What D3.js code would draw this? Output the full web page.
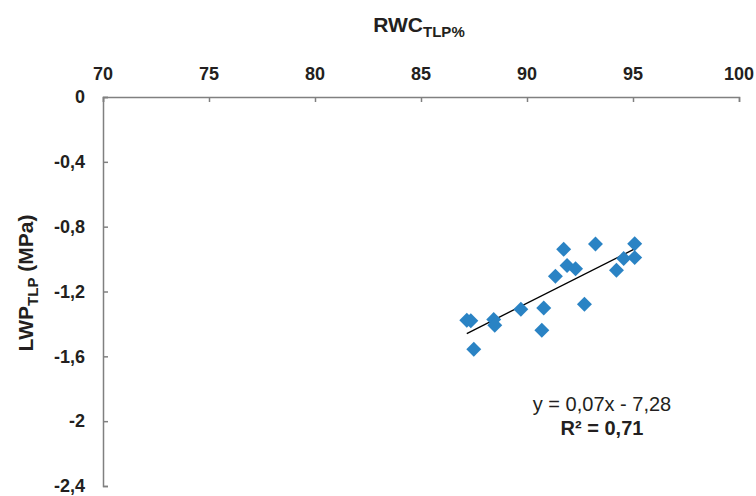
<!DOCTYPE html>
<html>
<head>
<meta charset="utf-8">
<script src="https://cdn.jsdelivr.net/npm/d3@7"></script>
<style>
  body { margin: 0; background: #fff; }
  svg { font-family: "Liberation Sans", Arial, sans-serif; }
</style>
</head>
<body>
<div id="chart"></div>
<script>
// RWC at turgor loss point (%) and LWP at turgor loss point (MPa)
const rwc = [87.16, 87.35, 87.49, 88.43, 88.48, 89.71, 90.70, 90.79, 91.34, 91.73,
             91.89, 92.29, 92.71, 93.23, 94.22, 94.56, 95.08, 95.08];
const lwp = [-1.377, -1.38, -1.556, -1.373, -1.408, -1.310, -1.439, -1.302, -1.106, -0.940,
             -1.040, -1.059, -1.279, -0.907, -1.069, -0.997, -0.905, -0.991];
const xTicks = [70, 75, 80, 85, 90, 95, 100];
const yTicks = [0, -0.4, -0.8, -1.2, -1.6, -2, -2.4];
const equation = "y = 0,07x - 7,28";
const rSquared = "0,71";

const width = 756, height = 496;
const margin = { top: 97, right: 17, bottom: 10, left: 103 };

const svg = d3.select("#chart").append("svg")
    .attr("width", width)
    .attr("height", height);

const x = d3.scaleLinear().domain([70, 100]).range([margin.left, 739]);
const y = d3.scaleLinear().domain([0, -2.4]).range([margin.top, 486]);

const fmt = v => String(v).replace(".", ",");

// top x axis, ticks pointing into the plot
const xAxis = svg.append("g")
    .attr("transform", `translate(0,${margin.top})`)
    .call(d3.axisBottom(x).tickValues(xTicks).tickSize(5).tickSizeOuter(5).tickFormat(""));
xAxis.selectAll("path, line").attr("stroke", "#808080").attr("stroke-width", 1.5);
svg.append("g").selectAll("text")
    .data(xTicks)
    .join("text")
    .attr("x", d => x(d))
    .attr("y", 80)
    .attr("text-anchor", "middle")
    .attr("font-size", 18)
    .attr("font-weight", "bold")
    .attr("fill", "#231f20")
    .text(d => d);

// left y axis, ticks pointing into the plot
const yAxis = svg.append("g")
    .attr("transform", `translate(${margin.left},0)`)
    .call(d3.axisRight(y).tickValues(yTicks).tickSize(5).tickSizeOuter(5).tickFormat(""));
yAxis.selectAll("path, line").attr("stroke", "#808080").attr("stroke-width", 1.5);
svg.append("g").selectAll("text")
    .data(yTicks)
    .join("text")
    .attr("x", 85)
    .attr("y", d => y(d))
    .attr("dy", "0.35em")
    .attr("text-anchor", "end")
    .attr("font-size", 18)
    .attr("font-weight", "bold")
    .attr("fill", "#231f20")
    .text(d => fmt(d));

// axis titles
const xTitle = svg.append("text")
    .attr("x", 419).attr("y", 32)
    .attr("text-anchor", "middle")
    .attr("font-size", 21)
    .attr("font-weight", "bold")
    .attr("fill", "#231f20");
xTitle.append("tspan").text("RWC");
xTitle.append("tspan").attr("font-size", 15).attr("dy", 5).text("TLP%");

const yTitle = svg.append("text")
    .attr("transform", "translate(33,283) rotate(-90)")
    .attr("text-anchor", "middle")
    .attr("font-size", 21)
    .attr("font-weight", "bold")
    .attr("fill", "#231f20");
yTitle.append("tspan").text("LWP");
yTitle.append("tspan").attr("font-size", 15).attr("dy", 5).text("TLP");
yTitle.append("tspan").attr("dy", -5).text(" (MPa)");

// least squares trend line
const pts = rwc.map((v, i) => [v, lwp[i]]);
const mx = d3.mean(rwc), my = d3.mean(lwp);
const slope = d3.sum(pts, p => (p[0] - mx) * (p[1] - my)) / d3.sum(pts, p => (p[0] - mx) ** 2);
const icpt = my - slope * mx;
const [x0, x1] = d3.extent(rwc);
svg.append("line")
    .attr("x1", x(x0)).attr("y1", y(slope * x0 + icpt))
    .attr("x2", x(x1)).attr("y2", y(slope * x1 + icpt))
    .attr("stroke", "#000")
    .attr("stroke-width", 1.3);

// diamond markers
svg.append("g").selectAll("path")
    .data(pts)
    .join("path")
    .attr("d", d3.symbol(d3.symbolSquare, 112))
    .attr("transform", d => `translate(${x(d[0])},${y(d[1])}) rotate(45)`)
    .attr("fill", "#2a83c4");

// equation annotation
svg.append("text")
    .attr("x", 602).attr("y", 411)
    .attr("text-anchor", "middle")
    .attr("font-size", 20)
    .attr("fill", "#231f20")
    .text(equation);
svg.append("text")
    .attr("x", 602).attr("y", 435)
    .attr("text-anchor", "middle")
    .attr("font-size", 20)
    .attr("font-weight", "bold")
    .attr("fill", "#231f20")
    .text(`R² = ${rSquared}`);
</script>
</body>
</html>
